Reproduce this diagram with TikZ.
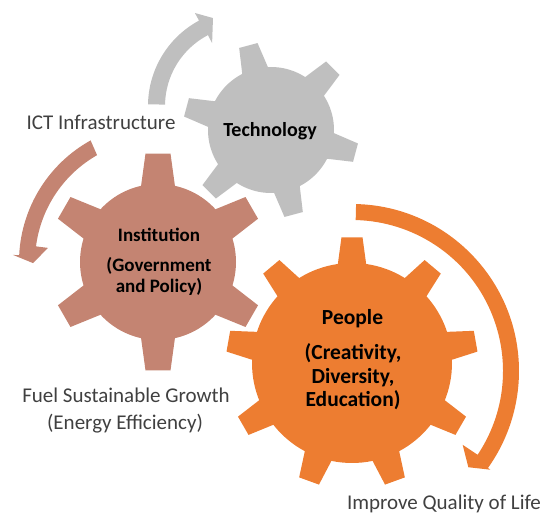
\documentclass[tikz,border=0pt]{standalone}
\usepackage{fontspec}
\setmainfont{Carlito}
\begin{document}
\begin{tikzpicture}[x=1pt,y=1pt, every node/.style={inner sep=0pt, anchor=base}]
  \definecolor{gearGray}{HTML}{BFBFBF}
  \definecolor{gearBrown}{HTML}{C48472}
  \definecolor{gearOrange}{HTML}{ED7D31}
  \definecolor{labelGray}{HTML}{404040}
  \tikzset{
    gearlabel/.style={font=\bfseries\fontsize{#1}{#1}\selectfont, text=black},
    sidelabel/.style={font=\fontsize{21}{21}\selectfont, text=labelGray}
  }
  \useasboundingbox (0,0) rectangle (542,515);
  % gears: body circle plus trapezoid teeth
  \begin{scope}[shift={(271,385)}]
    \fill[gearGray] (0,0) circle (63pt);
    \foreach \a in {105,165,...,405}
      \fill[gearGray] (\a-14:58pt) -- (\a-6.2:88pt) -- (\a+6.2:88pt) -- (\a+14:58pt) -- cycle;
  \end{scope}
  \begin{scope}[shift={(158,253)}]
    \fill[gearBrown] (0,0) circle (78pt);
    \foreach \a in {90,150,...,390}
      \fill[gearBrown] (\a-14:73pt) -- (\a-6.6:109pt) -- (\a+6.6:109pt) -- (\a+14:73pt) -- cycle;
  \end{scope}
  \begin{scope}[shift={(352,152)}]
    \fill[gearOrange] (0,0) circle (100pt);
    \foreach \a in {90,130,...,410}
      \fill[gearOrange] (\a-9:95pt) -- (\a-4.8:126pt) -- (\a+4.8:126pt) -- (\a+9:95pt) -- cycle;
  \end{scope}
  % circular arrows
  \begin{scope}[shift={(245,409)}]
    \fill[gearGray] (179:97pt) arc[start angle=179, end angle=118.3, radius=97pt]
      -- (118.3:105.6pt) -- (110:93.6pt) -- (117.6:71pt) -- (117.6:80pt)
      arc[start angle=117.6, end angle=179, radius=80pt] -- cycle;
  \end{scope}
  \begin{scope}[shift={(158,253)}]
    \fill[gearBrown] (119:139pt) arc[start angle=119, end angle=177.2, radius=139pt]
      -- (177.2:145.2pt) -- (180.5:125pt) -- (172.7:110.9pt) -- (172.7:123pt)
      arc[start angle=172.7, end angle=119.7, radius=123pt] -- cycle;
  \end{scope}
  \begin{scope}[shift={(352,144)}]
    \fill[gearOrange] (88.6:167pt) arc[start angle=88.6, end angle=-35.5, radius=167pt]
      -- (-35.5:170pt) -- (-39.6:151pt) -- (-33.7:133pt) -- (-33.7:151pt)
      arc[start angle=-33.7, end angle=88.6, radius=151pt] -- cycle;
  \end{scope}
  % labels
  \node[gearlabel=20] (tech) at (270,378) {Technology};
  \node[gearlabel=19] (inst) at (159,273.3) {Institution};
  \node[gearlabel=19] (instA) at (159,243.3) {(Government};
  \node[gearlabel=19] (instB) at (159,222.3) {and Policy)};
  \node[gearlabel=21.5] (people) at (352.5,190) {People};
  \node[gearlabel=21.5] (peopleA) at (353,155) {(Creativity,};
  \node[gearlabel=21.5] (peopleB) at (353,131.7) {Diversity,};
  \node[gearlabel=21.5] (peopleC) at (353,108.3) {Education)};
  \node[sidelabel] (ict) at (101,385) {ICT Infrastructure};
  \node[sidelabel] (fuel) at (126,112.3) {Fuel Sustainable Growth};
  \node[sidelabel] (fuelB) at (125,85) {(Energy Efficiency)};
  \node[sidelabel] (life) at (444,5) {Improve Quality of Life};
\end{tikzpicture}
\end{document}
